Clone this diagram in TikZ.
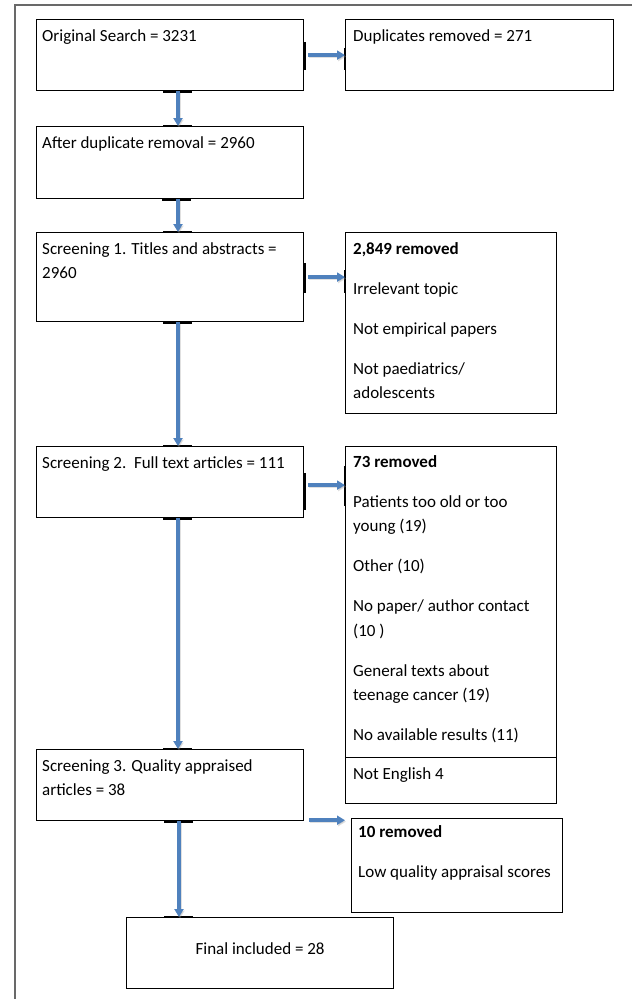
\documentclass[tikz,border=0pt]{standalone}
\usepackage{fontspec}
\setmainfont{Carlito}
\usetikzlibrary{arrows.meta}
\definecolor{arrowblue}{RGB}{79,129,189}
\definecolor{framegray}{RGB}{105,105,105}
\newcommand{\fst}{\rule{0pt}{14pt}}
\begin{document}
\begin{tikzpicture}[x=1pt,y=-1pt,
  box/.style={draw=black,line width=1.2pt,rectangle,inner sep=0pt,anchor=north west},
  txt/.style={inner sep=0pt,anchor=north west,align=left,font=\fontsize{17}{24.5}\selectfont},
  flow/.style={draw=arrowblue,line width=3.5pt,-{Triangle[length=8pt,width=9pt]},
    preaction={draw=black!35,opacity=0.35,line width=3.5pt,transform canvas={shift={(1pt,-1.5pt)}}}},
  tickmark/.style={draw=black,line width=2.8pt},
  thintick/.style={draw=black,line width=2pt},
]
\useasboundingbox (0,0) rectangle (632,999);
% outer frame
\draw[framegray,line width=1.8pt] (15,1002) -- (15,5) -- (635,5);

% boxes
\node[box,minimum width=267pt,minimum height=71pt] (b1) at (36,19) {};
\node[box,minimum width=268pt,minimum height=71pt] (dup) at (345,19) {};
\node[box,minimum width=267pt,minimum height=72pt] (b2) at (36,126) {};
\node[box,minimum width=267pt,minimum height=89pt] (b3) at (36,232) {};
\node[box,minimum width=211pt,minimum height=181pt] (r1) at (345,232) {};
\node[box,minimum width=267pt,minimum height=71pt] (b4) at (36,446) {};
\node[box,minimum width=211pt,minimum height=311pt] (r2) at (345,446) {};
\node[box,minimum width=211pt,minimum height=46pt] (r2b) at (345,757) {};
\node[box,minimum width=267pt,minimum height=71pt] (b5) at (36,749) {};
\node[box,minimum width=211pt,minimum height=94pt] (r3) at (351,818) {};
\node[box,minimum width=267pt,minimum height=71pt] (fin) at (126,917) {};

% texts
\node[txt] (t1) at ([shift={(6,8)}]b1.north west) {\fst Original Search = 3231};
\node[txt] (tdup) at ([shift={(8,8)}]dup.north west) {\fst Duplicates removed = 271};
\node[txt] (t2) at ([shift={(6,8)}]b2.north west) {\fst After duplicate removal = 2960};
\node[txt] (t3) at ([shift={(6,8)}]b3.north west) {\fst Screening 1. Titles and abstracts =\\ 2960};
\node[txt] (tr1) at ([shift={(8,8)}]r1.north west) {\fst\textbf{2,849 removed}\\[15.5pt] Irrelevant topic\\[15.5pt] Not empirical papers\\[15.5pt] Not paediatrics/\\ adolescents};
\node[txt] (t4) at ([shift={(6,8)}]b4.north west) {\fst Screening 2.\ \ Full text articles = 111};
\node[txt] (tr2) at ([shift={(8,7)}]r2.north west) {\fst\textbf{73 removed}\\[15.5pt] Patients too old or too\\ young (19)\\[15.5pt] Other (10)\\[15.5pt] No paper/ author contact\\ (10\ )\\[15.5pt] General texts about\\ teenage cancer (19)\\[15.5pt] No available results (11)};
\node[txt] (tr2b) at ([shift={(8,8)}]r2b.north west) {\fst Not English 4};
\node[txt] (t5) at ([shift={(6,8)}]b5.north west) {\fst Screening 3. Quality appraised\\ articles = 38};
\node[txt] (tr3) at ([shift={(7,5)}]r3.north west) {\fst\textbf{10 removed}\\[15.5pt] Low quality appraisal scores};
\node[txt,anchor=base] (tfin) at ([yshift=-1.5pt]fin.center) {Final included = 28};

% connection ticks
\draw[tickmark] ([yshift=-23pt]b1.north east) -- ([yshift=-51pt]b1.north east);
\draw[thintick] ([yshift=-29pt]dup.north west) -- ([yshift=-51pt]dup.north west);
\draw[tickmark] ([xshift=127pt]b1.south west) -- ([xshift=156pt]b1.south west);
\draw[tickmark] ([xshift=127pt]b2.north west) -- ([xshift=156pt]b2.north west);
\draw[tickmark] ([xshift=126pt]b2.south west) -- ([xshift=155pt]b2.south west);
\draw[tickmark] ([xshift=127pt]b3.north west) -- ([xshift=156pt]b3.north west);
\draw[tickmark] ([yshift=-31pt]b3.north east) -- ([yshift=-61pt]b3.north east);
\draw[thintick] ([yshift=-38pt]r1.north west) -- ([yshift=-61pt]r1.north west);
\draw[tickmark] ([xshift=127pt]b3.south west) -- ([xshift=156pt]b3.south west);
\draw[tickmark] ([xshift=127pt]b4.north west) -- ([xshift=156pt]b4.north west);
\draw[tickmark] ([yshift=-27pt]b4.north east) -- ([yshift=-64pt]b4.north east);
\draw[thintick] ([yshift=-20pt]r2.north west) -- ([yshift=-60pt]r2.north west);
\draw[tickmark] ([xshift=127pt]b4.south west) -- ([xshift=156pt]b4.south west);
\draw[tickmark] ([xshift=127pt]b5.north west) -- ([xshift=156pt]b5.north west);
\draw[tickmark] ([xshift=128pt]b5.south west) -- ([xshift=157pt]b5.south west);
\draw[tickmark] ([xshift=38pt]fin.north west) -- ([xshift=67pt]fin.north west);

% connectors
\coordinate (ax) at (178,0);
\coordinate (ax5) at (179,0);
\draw[flow] (b1.south -| ax) -- (b2.north -| ax);
\draw[flow] (b2.south -| ax) -- (b3.north -| ax);
\draw[flow] (b3.south -| ax) -- (b4.north -| ax);
\draw[flow] (b4.south -| ax) -- (b5.north -| ax);
\draw[flow] (b5.south -| ax5) -- (fin.north -| ax5);

\draw[flow] ([xshift=4pt]b1.east) -- (dup.west);
\coordinate (a3) at ([xshift=4pt]b3.east);
\draw[flow] (a3) -- (a3 -| r1.west);
\coordinate (a4) at ([shift={(4,3)}]b4.east);
\draw[flow] (a4) -- (a4 -| r2.west);
\coordinate (a5s) at ([shift={(5,-1)}]b5.south east);
\coordinate (a5e) at (a5s -| r3.west);
\draw[flow] (a5s) -- ([xshift=-6pt]a5e);
\end{tikzpicture}
\end{document}
